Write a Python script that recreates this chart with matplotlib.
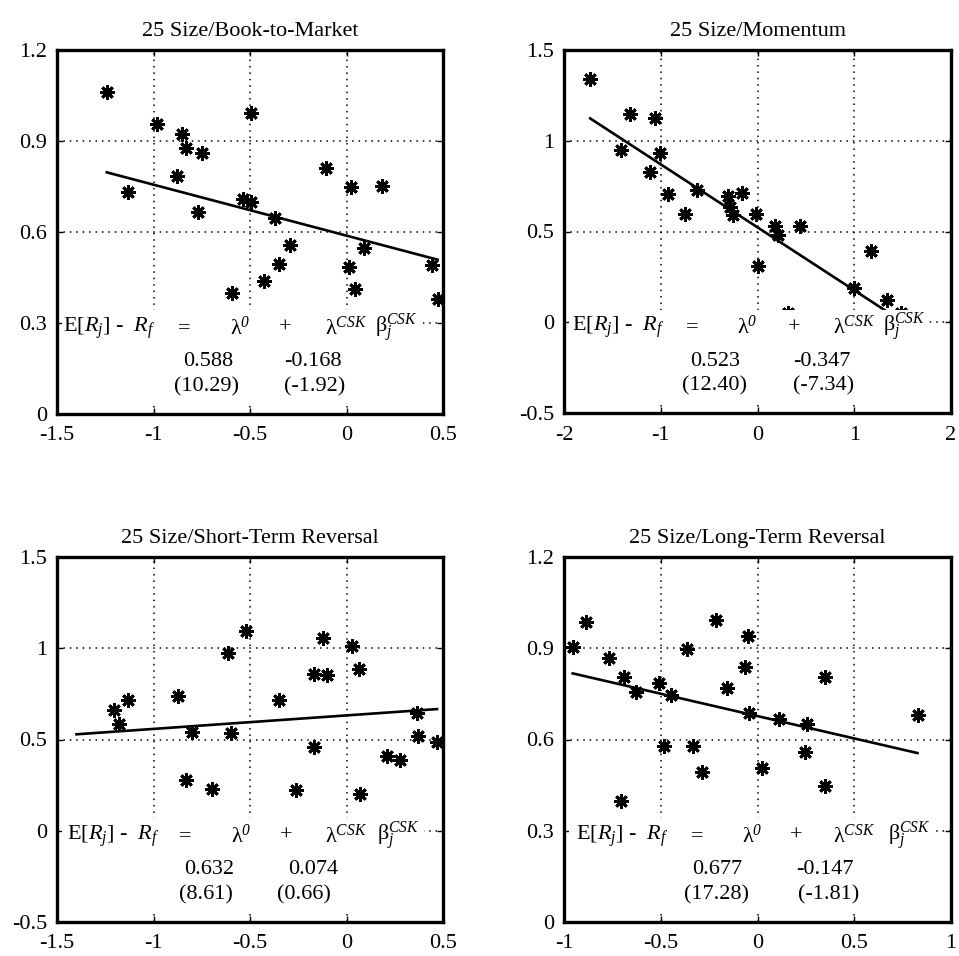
import matplotlib
matplotlib.use("Agg")
import matplotlib.pyplot as plt
import numpy as np
from matplotlib.patches import Rectangle

plt.rcParams['font.family'] = ['Liberation Serif', 'DejaVu Serif']
plt.rcParams['mathtext.fontset'] = 'custom'
plt.rcParams['mathtext.rm'] = 'Liberation Serif'
plt.rcParams['mathtext.it'] = 'Liberation Serif:italic'
plt.rcParams['mathtext.sf'] = 'Liberation Serif:italic'
plt.rcParams['mathtext.bf'] = 'Liberation Serif:bold'
plt.rcParams['axes.unicode_minus'] = False

# ---------------- data ----------------
titles = ["25 Size/Book-to-Market", "25 Size/Momentum",
          "25 Size/Short-Term Reversal", "25 Size/Long-Term Reversal"]

bm_x = [-1.242, -0.983, -0.854, -0.833, -0.750, -0.877, -1.130, -0.771, -0.496, -0.538,
        -0.496, -0.370, -0.293, -0.350, -0.427, -0.595, -0.106, 0.023, 0.186, 0.092,
        0.013, 0.044, 0.441, 0.472]
bm_y = [1.063, 0.955, 0.923, 0.876, 0.859, 0.785, 0.731, 0.667, 0.993, 0.709,
        0.700, 0.645, 0.557, 0.494, 0.439, 0.398, 0.810, 0.749, 0.752, 0.546,
        0.484, 0.412, 0.491, 0.378]

mom_x = [-1.730, -1.322, -1.055, -1.408, -1.010, -1.114, -0.924, -0.751, -0.623, -0.301,
         -0.163, -0.284, -0.249, -0.014, 0.183, 0.211, 0.443, 0.000, 0.997, 1.170,
         1.343, 1.481, 0.311]
mom_y = [1.340, 1.145, 1.127, 0.951, 0.933, 0.827, 0.705, 0.595, 0.731, 0.696,
         0.713, 0.636, 0.591, 0.595, 0.531, 0.482, 0.531, 0.309, 0.191, 0.391,
         0.122, 0.050, 0.050]

st_x = [-1.203, -1.134, -1.177, -0.873, -0.800, -0.833, -0.696, -0.616, -0.523, -0.599,
        -0.349, -0.122, -0.167, -0.101, -0.170, -0.260, 0.030, 0.064, 0.069, 0.208,
        0.278, 0.365, 0.368, 0.469, -1.399]
st_y = [0.660, 0.714, 0.584, 0.736, 0.542, 0.277, 0.230, 0.976, 1.094, 0.537,
        0.718, 1.054, 0.859, 0.855, 0.461, 0.221, 1.013, 0.886, 0.204, 0.412,
        0.389, 0.646, 0.519, 0.488, -0.100]

lt_x = [-0.955, -0.886, -0.765, -0.690, -0.630, -0.704, -0.510, -0.448, -0.483, -0.363,
        -0.332, -0.285, -0.215, -0.156, -0.047, -0.064, -0.042, 0.022, 0.109, 0.256,
        0.247, 0.351, 0.351, 0.827]
lt_y = [0.905, 0.985, 0.869, 0.807, 0.755, 0.398, 0.785, 0.747, 0.580, 0.897,
        0.580, 0.494, 0.993, 0.769, 0.940, 0.840, 0.687, 0.505, 0.669, 0.651,
        0.559, 0.805, 0.447, 0.682]

lam0 = [0.588, 0.523, 0.632, 0.677]
lam1 = [-0.168, -0.347, 0.074, -0.147]
t0 = ["(10.29)", "(12.40)", "(8.61)", "(17.28)"]
t1 = ["(-1.92)", "(-7.34)", "(0.66)", "(-1.81)"]

xticks = [[-1.5, -1, -0.5, 0, 0.5], [-2, -1, 0, 1, 2],
          [-1.5, -1, -0.5, 0, 0.5], [-1, -0.5, 0, 0.5, 1]]
xticklabels = [["-1.5", "-1", "-0.5", "0", "0.5"], ["-2", "-1", "0", "1", "2"],
               ["-1.5", "-1", "-0.5", "0", "0.5"], ["-1", "-0.5", "0", "0.5", "1"]]
yticks = [[0, 0.3, 0.6, 0.9, 1.2], [-0.5, 0, 0.5, 1, 1.5],
          [-0.5, 0, 0.5, 1, 1.5], [0, 0.3, 0.6, 0.9, 1.2]]
yticklabels = [["0", "0.3", "0.6", "0.9", "1.2"], ["-0.5", "0", "0.5", "1", "1.5"],
               ["-0.5", "0", "0.5", "1", "1.5"], ["0", "0.3", "0.6", "0.9", "1.2"]]

xs = [bm_x, mom_x, st_x, lt_x]
ys = [bm_y, mom_y, st_y, lt_y]

# ---------------- layout ----------------
fig = plt.figure(figsize=(9.59, 9.56), dpi=100)
W, H = 959, 956
boxes = [(57, 50, 443, 414), (564, 50, 951, 413), (57, 557, 443, 922), (564, 557, 951, 922)]

num_cx = [(0.391, 0.664, 0.388, 0.668), (0.390, 0.665, 0.388, 0.670),
          (0.395, 0.664, 0.385, 0.640), (0.395, 0.674, 0.395, 0.683)]
eq_x = [(0.016, 0.329, 0.448, 0.591, 0.694, 0.824),
        (0.020, 0.330, 0.446, 0.594, 0.695, 0.824),
        (0.025, 0.333, 0.452, 0.595, 0.695, 0.830),
        (0.031, 0.343, 0.459, 0.601, 0.696, 0.838)]
box_right = [0.948, 0.942, 0.95, 0.955]

FS = 16
for i in range(4):
    x0, y0, x1, y1 = boxes[i]
    ax = fig.add_axes([x0 / W, 1 - y1 / H, (x1 - x0) / W, (y1 - y0) / H])
    xmin, xmax = xticks[i][0], xticks[i][-1]
    ymin, ymax = yticks[i][0], yticks[i][-1]
    ax.set_xlim(xmin, xmax)
    ax.set_ylim(ymin, ymax)
    ax.set_xticks(xticks[i])
    ax.set_xticklabels(xticklabels[i])
    ax.set_yticks(yticks[i])
    ax.set_yticklabels(yticklabels[i])
    ax.tick_params(direction='in', length=4, width=1.0, top=True, right=True,
                   labelsize=FS, pad=7)
    ax.tick_params(axis='x', pad=9)
    ax.grid(True, color='black', linestyle=(0, (1, 3.2)), linewidth=1.1)
    ax.set_axisbelow(True)
    for sp in ax.spines.values():
        sp.set_linewidth(2.4)
        sp.set_zorder(6)

    ax.plot(xs[i], ys[i], linestyle='none', marker=(8, 2, 0), markersize=10.5,
            markeredgewidth=2.0, color='black', zorder=2)
    bx = np.array([min(xs[i]), max(xs[i])])
    ax.plot(bx, lam0[i] + lam1[i] * bx, color='black', linewidth=1.9, zorder=2)

    ax.set_title(titles[i], fontsize=FS, pad=10)

    ax.add_patch(Rectangle((0.014, 0.03), box_right[i] - 0.014, 0.255,
                           transform=ax.transAxes, facecolor='white',
                           edgecolor='none', zorder=3))
    ey = 0.235
    ex = eq_x[i]
    kw = dict(transform=ax.transAxes, fontsize=FS, zorder=4, va='center')
    ax.text(ex[0], ey, r'E$[R_j]$ -  $R_f$', ha='left', **kw)
    ax.text(ex[1], ey, '=', ha='center', **kw)
    ax.text(ex[2], ey, r'$\mathrm{\lambda}^{\mathsf{0}}$', ha='left', **kw)
    ax.text(ex[3], ey, '+', ha='center', **kw)
    ax.text(ex[4], ey, r'$\mathrm{\lambda}^{CSK}$', ha='left', **kw)
    ax.text(ex[5], ey, r'$\mathrm{\beta}_j^{CSK}$', ha='left', **kw)

    c = num_cx[i]
    ax.text(c[0], 0.143, f"{lam0[i]:.3f}", ha='center', **kw)
    ax.text(c[1], 0.143, f"{lam1[i]:.3f}", ha='center', **kw)
    ax.text(c[2], 0.075, t0[i], ha='center', **kw)
    ax.text(c[3], 0.075, t1[i], ha='center', **kw)

fig.savefig("out.png", dpi=100)
